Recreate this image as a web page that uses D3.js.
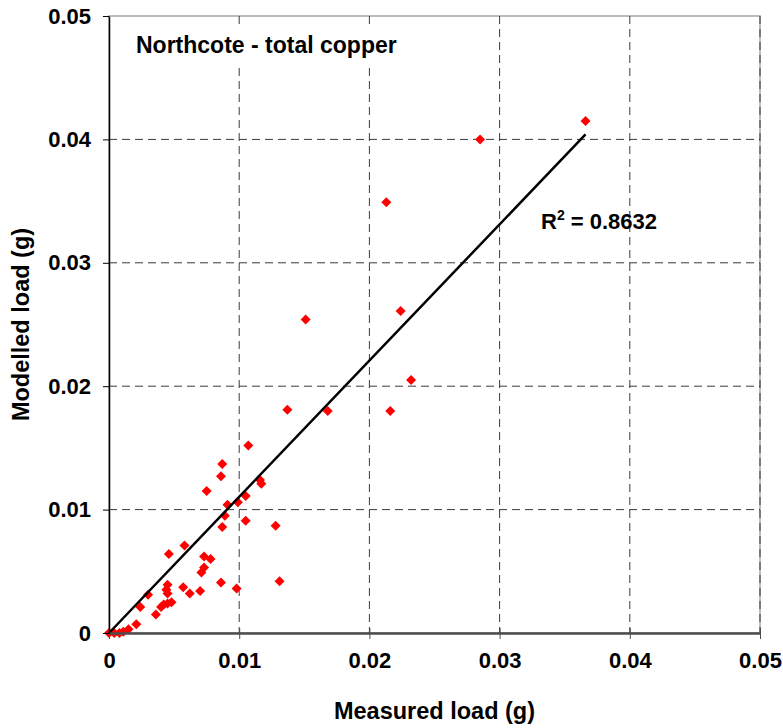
<!DOCTYPE html>
<html lang="en">
<head>
<meta charset="UTF-8">
<title>Northcote - total copper</title>
<script src="https://d3js.org/d3.v7.min.js"></script>
<style>
  body { margin: 0; background: #fff; }
  svg text { font-family: "Liberation Sans", Arial, sans-serif; font-weight: bold; fill: #000; }
</style>
</head>
<body>
<div id="chart"></div>
<script>
// measured vs modelled copper load (g)
const measured = [0, 0.0004, 0.0008, 0.0011, 0.0015, 0.0021, 0.0024, 0.0030, 0.0036, 0.0040,
  0.0042, 0.0045, 0.0048, 0.0044, 0.0045, 0.0045, 0.0057, 0.0062, 0.0070, 0.0046,
  0.0058, 0.0073, 0.0078, 0.0073, 0.0071, 0.0086, 0.0098, 0.0131, 0.0087, 0.0089,
  0.0091, 0.0099, 0.0105, 0.0105, 0.0128, 0.0075, 0.0086, 0.0087, 0.0107, 0.0116,
  0.0117, 0.0137, 0.0168, 0.0216, 0.0232, 0.0224, 0.0151, 0.0213, 0.0285, 0.0366];
const modelled = [0, 0, 0, 0.0001, 0.0003, 0.0007, 0.0021, 0.0031, 0.0015, 0.0021,
  0.0023, 0.0024, 0.0025, 0.0035, 0.0039, 0.0032, 0.0037, 0.0032, 0.0034, 0.0064,
  0.0071, 0.0062, 0.0060, 0.0053, 0.0049, 0.0041, 0.0036, 0.0042, 0.0086, 0.0095,
  0.0104, 0.0106, 0.0091, 0.0111, 0.0087, 0.0115, 0.0127, 0.0137, 0.0152, 0.0124,
  0.0121, 0.0181, 0.0180, 0.0180, 0.0205, 0.0261, 0.0254, 0.0349, 0.0400, 0.0415];

// linear trendline end points
const trendX = [0, 0.0366];
const trendY = [0, 0.0404];

const tickValues = [0, 0.01, 0.02, 0.03, 0.04, 0.05];
const tickLabels = ["0", "0.01", "0.02", "0.03", "0.04", "0.05"];

const title = "Northcote - total copper";
const r2 = "0.8632";

const width = 783, height = 728;
const plotLeft = 109, plotRight = 760, plotTop = 16, plotBottom = 633;

const svg = d3.select("#chart").append("svg")
  .attr("width", width)
  .attr("height", height);

const x = d3.scaleLinear().domain([0, 0.05]).range([plotLeft, plotRight]);
const y = d3.scaleLinear().domain([0, 0.05]).range([plotBottom, plotTop]);

// plot border
svg.append("rect")
  .attr("x", plotLeft).attr("y", plotTop)
  .attr("width", plotRight - plotLeft).attr("height", plotBottom - plotTop)
  .attr("fill", "none").attr("stroke", "#a6a6a6").attr("stroke-width", 1.5);

// dashed grid
svg.append("g").selectAll("line")
  .data(tickValues.slice(1))
  .enter().append("line")
  .attr("x1", d => x(d)).attr("x2", d => x(d))
  .attr("y1", plotTop).attr("y2", plotBottom)
  .attr("stroke", "#3a3a3a").attr("stroke-dasharray", "8,5");

svg.append("g").selectAll("line")
  .data(tickValues.slice(1, -1))
  .enter().append("line")
  .attr("x1", plotLeft).attr("x2", plotRight)
  .attr("y1", d => y(d)).attr("y2", d => y(d))
  .attr("stroke", "#3a3a3a").attr("stroke-dasharray", "8,5");

// title box covers the grid
svg.append("rect")
  .attr("x", 128).attr("y", 27).attr("width", 276).attr("height", 37)
  .attr("fill", "#fff");
svg.append("text")
  .attr("x", 136).attr("y", 53)
  .style("font-size", "23px")
  .text(title);

// points
svg.append("g").selectAll("path")
  .data(measured.map((m, i) => [m, modelled[i]]))
  .enter().append("path")
  .attr("d", d3.symbol(d3.symbolSquare, 50))
  .attr("transform", d => `translate(${x(d[0])},${y(d[1])}) rotate(45)`)
  .attr("fill", "#ff0000");

// trendline
svg.append("line")
  .attr("x1", x(trendX[0])).attr("y1", y(trendY[0]))
  .attr("x2", x(trendX[1])).attr("y2", y(trendY[1]))
  .attr("stroke", "#000").attr("stroke-width", 2.5);

const r2Text = svg.append("text")
  .attr("x", 541).attr("y", 229)
  .style("font-size", "22px");
r2Text.append("tspan").text("R");
r2Text.append("tspan").attr("dy", -9).style("font-size", "14px").text("2");
r2Text.append("tspan").attr("dy", 9).text(" = " + r2);

// axes
const xAxis = svg.append("g")
  .attr("transform", `translate(0,${plotBottom})`)
  .call(d3.axisBottom(x).tickValues(tickValues).tickFormat((d, i) => tickLabels[i]).tickSizeInner(6).tickSizeOuter(0).tickPadding(13));
xAxis.select(".domain").attr("stroke", "#4d4d4d").attr("stroke-width", 2.5);
xAxis.selectAll(".tick line").attr("stroke", "#4d4d4d").attr("y1", -5);
xAxis.selectAll("text").style("font-size", "22px").attr("fill", "#000");

const yAxis = svg.append("g")
  .attr("transform", `translate(${plotLeft},0)`)
  .call(d3.axisLeft(y).tickValues(tickValues).tickFormat((d, i) => tickLabels[i]).tickSizeInner(6).tickSizeOuter(0).tickPadding(12));
yAxis.select(".domain").attr("stroke", "#000").attr("stroke-width", 1.5);
yAxis.selectAll(".tick line").attr("stroke", "#000");
yAxis.selectAll("text").style("font-size", "22px").attr("fill", "#000");

// axis titles
svg.append("text")
  .attr("x", (plotLeft + plotRight) / 2).attr("y", 719)
  .attr("text-anchor", "middle")
  .style("font-size", "23.5px")
  .text("Measured load (g)");

svg.append("text")
  .attr("transform", "rotate(-90)")
  .attr("x", -(plotTop + plotBottom) / 2).attr("y", 29)
  .attr("text-anchor", "middle")
  .style("font-size", "23.5px")
  .text("Modelled load (g)");
</script>
</body>
</html>
